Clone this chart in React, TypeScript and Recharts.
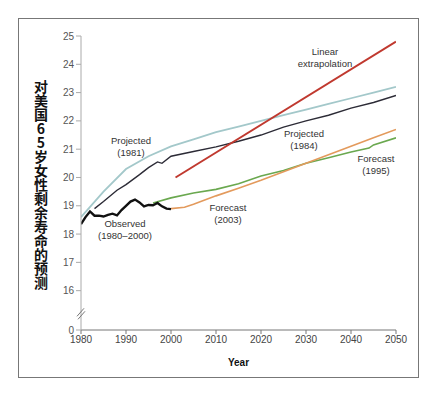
import { LineChart, Line, XAxis, YAxis, ReferenceDot } from "recharts";

// observed 1980-2000 (thick black)
const observed = [
  { year: 1980, value: 18.35 }, { year: 1981, value: 18.6 }, { year: 1982, value: 18.8 },
  { year: 1983, value: 18.65 }, { year: 1984, value: 18.65 }, { year: 1985, value: 18.62 },
  { year: 1986, value: 18.68 }, { year: 1987, value: 18.72 }, { year: 1988, value: 18.66 },
  { year: 1989, value: 18.85 }, { year: 1990, value: 19.0 }, { year: 1991, value: 19.15 },
  { year: 1992, value: 19.22 }, { year: 1993, value: 19.12 }, { year: 1994, value: 18.98 },
  { year: 1995, value: 19.03 }, { year: 1996, value: 19.02 }, { year: 1997, value: 19.1 },
  { year: 1998, value: 18.98 }, { year: 1999, value: 18.9 }, { year: 2000, value: 18.88 },
];

const projected1981 = [
  { year: 1980, value: 18.6 }, { year: 1985, value: 19.5 }, { year: 1990, value: 20.3 },
  { year: 1995, value: 20.75 }, { year: 2000, value: 21.1 }, { year: 2005, value: 21.35 },
  { year: 2010, value: 21.6 }, { year: 2015, value: 21.8 }, { year: 2020, value: 22.0 },
  { year: 2025, value: 22.2 }, { year: 2030, value: 22.4 }, { year: 2035, value: 22.6 },
  { year: 2040, value: 22.8 }, { year: 2045, value: 23.0 }, { year: 2050, value: 23.2 },
];

const projected1984 = [
  { year: 1983, value: 18.9 }, { year: 1985, value: 19.15 }, { year: 1988, value: 19.55 },
  { year: 1990, value: 19.75 }, { year: 1993, value: 20.1 }, { year: 1995, value: 20.35 },
  { year: 1997, value: 20.55 }, { year: 1998, value: 20.5 }, { year: 2000, value: 20.75 },
  { year: 2005, value: 20.92 }, { year: 2010, value: 21.08 }, { year: 2015, value: 21.28 },
  { year: 2020, value: 21.5 }, { year: 2025, value: 21.78 }, { year: 2030, value: 22.0 },
  { year: 2035, value: 22.2 }, { year: 2040, value: 22.45 }, { year: 2045, value: 22.65 },
  { year: 2050, value: 22.9 },
];

const linearExtrapolation = [
  { year: 2001, value: 20.0 }, { year: 2050, value: 24.8 },
];

const forecast1995 = [
  { year: 1996, value: 19.1 }, { year: 2000, value: 19.28 }, { year: 2005, value: 19.45 },
  { year: 2010, value: 19.58 }, { year: 2015, value: 19.78 }, { year: 2020, value: 20.05 },
  { year: 2025, value: 20.25 }, { year: 2030, value: 20.5 }, { year: 2035, value: 20.7 },
  { year: 2040, value: 20.9 }, { year: 2044, value: 21.04 }, { year: 2045, value: 21.15 },
  { year: 2050, value: 21.4 },
];

const forecast2003 = [
  { year: 2000, value: 18.9 }, { year: 2003, value: 18.95 }, { year: 2005, value: 19.05 },
  { year: 2010, value: 19.35 }, { year: 2015, value: 19.62 }, { year: 2020, value: 19.9 },
  { year: 2025, value: 20.2 }, { year: 2030, value: 20.5 }, { year: 2035, value: 20.8 },
  { year: 2040, value: 21.1 }, { year: 2045, value: 21.4 }, { year: 2050, value: 21.7 },
];

const xTicks = [1980, 1990, 2000, 2010, 2020, 2030, 2040, 2050];
// bottom of the broken axis stands for 0
const axisBottom = 14.61;
const yTicks = [axisBottom, 16, 17, 18, 19, 20, 21, 22, 23, 24, 25];
const breakAt = 15.2;

const yTitle = "对美国65岁女性剩余寿命的预测";

const notes = [
  { lines: ["Linear", "extrapolation"], x: 325, y: 46 },
  { lines: ["Projected", "(1981)"], x: 131, y: 135 },
  { lines: ["Projected", "(1984)"], x: 304, y: 128 },
  { lines: ["Forecast", "(1995)"], x: 376, y: 153 },
  { lines: ["Forecast", "(2003)"], x: 228, y: 202 },
  { lines: ["Observed", "(1980\u20132000)"], x: 125, y: 218 },
];

const font = "'Liberation Sans', Arial, sans-serif";

const BreakMark = (props: any) => {
  const { cx, cy } = props;
  return (
    <g stroke="#777" strokeWidth={1}>
      <line x1={cx - 4} y1={cy + 3} x2={cx + 3} y2={cy - 5} />
      <line x1={cx - 3} y1={cy + 6} x2={cx + 4} y2={cy - 2} />
    </g>
  );
};

export default function App() {
  return (
    <div style={{ position: "absolute", left: 0, top: 0, width: 437, height: 396, background: "#fff", fontFamily: font }}>
      <div style={{ position: "absolute", left: 18, top: 18, width: 399, height: 358, border: "1px solid #777" }} />
      <div
        style={{
          position: "absolute", left: 34, top: 80, fontSize: 14, fontWeight: 700, color: "#111",
          writingMode: "vertical-rl", textOrientation: "upright",
          fontFamily: "'Noto Sans CJK SC', sans-serif", lineHeight: 1,
        }}
      >
        {yTitle}
      </div>
      <div style={{ position: "absolute", left: 0, top: 0 }}>
        <LineChart width={437} height={396} data={observed} margin={{ top: 36, right: 41, bottom: 26, left: 0 }}>
          <XAxis
            dataKey="year" type="number" domain={[1980, 2050]} ticks={xTicks} allowDataOverflow
            stroke="#777" tickSize={4} tickMargin={2} height={40}
            tick={{ fill: "#444", fontSize: 10, fontFamily: font }}
            label={{ value: "Year", position: "insideBottom", offset: 4, fill: "#111", fontSize: 10, fontWeight: 700, fontFamily: font }}
          />
          <YAxis
            type="number" domain={[axisBottom, 25]} ticks={yTicks} allowDataOverflow width={81}
            stroke="#aaa" tickSize={5} tickMargin={2}
            tick={{ fill: "#555", fontSize: 10, fontFamily: font }}
            tickFormatter={(v: number) => (v < 15 ? "0" : String(v))}
          />
          <ReferenceDot x={1980} y={breakAt} r={0} shape={BreakMark} ifOverflow="visible" />
          <Line data={projected1981} dataKey="value" stroke="#a3c8ca" strokeWidth={1.8} dot={false} isAnimationActive={false} />
          <Line data={projected1984} dataKey="value" stroke="#2c2b36" strokeWidth={1.4} dot={false} isAnimationActive={false} />
          <Line data={forecast1995} dataKey="value" stroke="#6aa84f" strokeWidth={1.6} dot={false} isAnimationActive={false} />
          <Line data={forecast2003} dataKey="value" stroke="#e39a5c" strokeWidth={1.6} dot={false} isAnimationActive={false} />
          <Line data={linearExtrapolation} dataKey="value" stroke="#c0392f" strokeWidth={2} dot={false} isAnimationActive={false} />
          <Line data={observed} dataKey="value" stroke="#111" strokeWidth={2.4} dot={false} isAnimationActive={false} />
        </LineChart>
      </div>
      {notes.map((n) => (
        <div
          key={n.lines[0] + n.lines[1]}
          style={{
            position: "absolute", left: n.x, top: n.y, transform: "translateX(-50%)",
            fontSize: 9.5, lineHeight: "12px", color: "#333", textAlign: "center", whiteSpace: "nowrap",
          }}
        >
          {n.lines.map((l) => (<div key={l}>{l}</div>))}
        </div>
      ))}
    </div>
  );
}
